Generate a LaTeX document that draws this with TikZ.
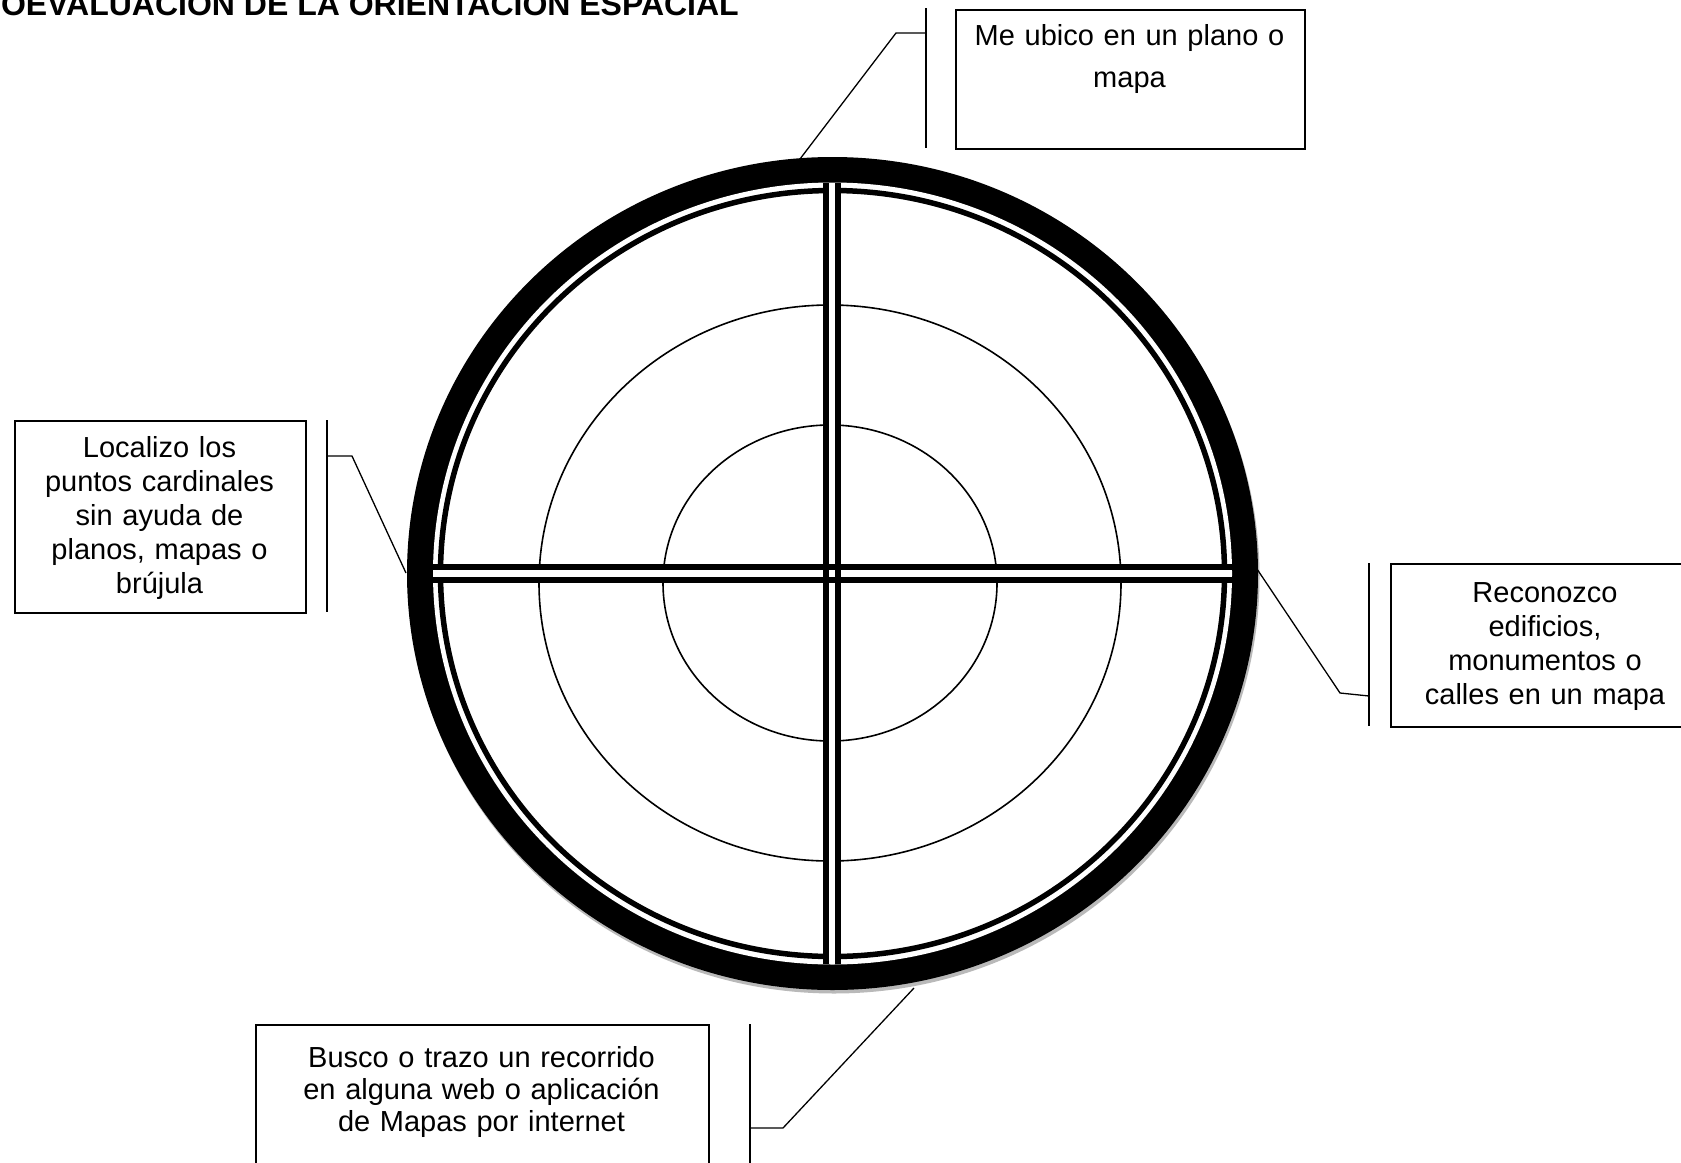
\documentclass[tikz,border=0pt]{standalone}
\usepackage{fontspec}
\setmainfont{Liberation Sans}
\begin{document}
\begin{tikzpicture}[x=1pt,y=-1pt,
  box/.style={draw, line width=1.6pt, inner sep=0pt},
  boxtext/.style={font=\fontsize{29}{34}\selectfont, text width=#1, align=center, inner sep=0pt, anchor=base},
  lead/.style={line width=1.3pt},
  bar/.style={line width=6pt},
  ring/.style={line width=1.6pt}]
\useasboundingbox (0,0) rectangle (1681,1162);
\fill[white] (0,0) rectangle (1681,1162);
\clip (0,0) rectangle (1681,1162);

% title
\node[font=\bfseries\fontsize{32}{36}\selectfont, anchor=base east, inner sep=0pt] (title) at (739,15) {OEVALUACION DE LA ORIENTACION ESPACIAL};

% target
\coordinate (c) at (832.5,573.5);
\coordinate (ci) at (830,583);
\fill[gray!55] ([shift={(1.5,3.5)}]c) ellipse [x radius=425.5pt, y radius=416.5pt];
\fill[black] (c) ellipse [x radius=425.5pt, y radius=416.5pt];
\fill[white] (c) ellipse [x radius=399.5pt, y radius=391pt];
\draw[line width=5.5pt] (c) ellipse [x radius=392pt, y radius=383pt];
\draw[ring] (ci) ellipse [x radius=291pt, y radius=278pt];
\draw[ring] (ci) ellipse [x radius=167pt, y radius=158pt];

% double cross
\coordinate (hl) at (433,573.5);
\coordinate (hr) at (1232,573.5);
\coordinate (vt) at (832,183);
\coordinate (vb) at (832,964);
\fill[white] (433,570) rectangle (1232,577);
\fill[white] (829,183) rectangle (835,963);
\draw[bar] ([yshift=-6.5]hl) -- ([yshift=-6.5]hr);
\draw[bar] ([yshift=6.5]hl) -- ([yshift=6.5]hr);
\draw[bar] ([xshift=-6]vt) -- ([xshift=-6]vb);
\draw[bar] ([xshift=6]vt) -- ([xshift=6]vb);

% boxes
\node[box, anchor=north west, minimum width=349pt, minimum height=139pt] (topbox) at (955,9) {};
\node[box, anchor=north west, minimum width=291pt, minimum height=192pt] (leftbox) at (14,420) {};
\node[box, anchor=north west, minimum width=310pt, minimum height=163pt] (rightbox) at (1390,563) {};
\node[box, anchor=north west, minimum width=453pt, minimum height=160pt] (botbox) at (255,1024) {};

\node[boxtext=340pt] (toptext) at (1129.5,45) {Me ubico en un plano o\\[8pt]mapa};
\node[boxtext=280pt] (lefttext) at (159.5,457.5) {Localizo los\\puntos cardinales\\sin ayuda de\\planos, mapas o\\brújula};
\node[boxtext=300pt] (righttext) at (1545,602) {Reconozco\\edificios,\\monumentos o\\calles en un mapa};
\node[boxtext=440pt, font=\fontsize{29}{32}\selectfont] (bottext) at (481.5,1067) {Busco o trazo un recorrido\\en alguna web o aplicación\\de Mapas por internet};

% callouts
\coordinate (ta) at (926,8);
\coordinate (tb) at (926,148);
\coordinate (tm) at (926,33);
\coordinate (tk) at (896,33);
\coordinate (te) at (800,159);
\draw[lead] (ta) -- (tb);
\draw[lead] (tm) -- (tk) -- (te);

\coordinate (la) at (327,420);
\coordinate (lb) at (327,612);
\coordinate (lm) at (327,456);
\coordinate (lk) at (352,456);
\coordinate (le) at (406,573);
\draw[lead] (la) -- (lb);
\draw[lead] (lm) -- (lk) -- (le);

\coordinate (ra) at (1369,563);
\coordinate (rb) at (1369,726);
\coordinate (rm) at (1369,696);
\coordinate (rk) at (1340,693);
\coordinate (re) at (1257,569);
\draw[lead] (ra) -- (rb);
\draw[lead] (rm) -- (rk) -- (re);

\coordinate (ba) at (750,1024);
\coordinate (bb) at (750,1180);
\coordinate (bm) at (750,1128);
\coordinate (bk) at (783,1128);
\coordinate (be) at (914,988);
\draw[lead] (ba) -- (bb);
\draw[lead] (bm) -- (bk) -- (be);
\end{tikzpicture}
\end{document}
